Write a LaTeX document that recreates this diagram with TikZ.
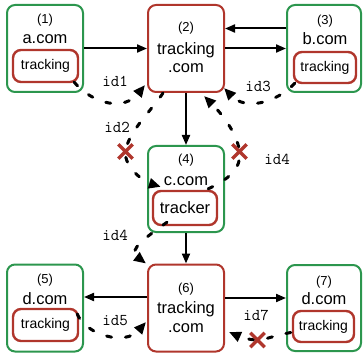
\documentclass[tikz,border=0pt]{standalone}
\usepackage{fontspec}
\setmainfont{Liberation Sans}
\usetikzlibrary{arrows.meta,shapes.misc,calc}
\definecolor{sitegreen}{RGB}{44,150,78}
\definecolor{trackred}{RGB}{176,54,44}
\tikzset{
  site/.style={draw=sitegreen,line width=2pt,rounded corners=8pt,inner sep=0pt},
  tracksite/.style={draw=trackred,line width=2pt,rounded corners=8pt,inner sep=0pt},
  widget/.style={draw=trackred,line width=2.4pt,rounded corners=8pt,inner sep=0pt,
    font=\fontsize{14}{16}\selectfont},
  num/.style={anchor=base,inner sep=0pt,font=\fontsize{13}{15}\selectfont},
  dom/.style={anchor=base,inner sep=0pt,font=\fontsize{16.5}{19}\selectfont},
  idlabel/.style={inner sep=0pt,font=\ttfamily\fontsize{16.5}{18}\selectfont},
  flow/.style={line width=2pt,-{Triangle[length=10pt,width=8pt]}},
  idflow/.style={line width=3pt,dash pattern=on 5pt off 14pt,line cap=round,
    -{Triangle[length=12pt,width=10pt]}},
  blocked/.style={cross out,draw=trackred,line width=3.3pt,minimum size=11pt,inner sep=0pt},
}
\begin{document}
\begin{tikzpicture}[x=1pt,y=-1pt]
\useasboundingbox (0,0) rectangle (364,358);

% first-party sites (green) and tracker domains (red)
\node[site,minimum width=76pt,minimum height=87pt] (b1) at (45,48.5) {};
\node[tracksite,minimum width=76pt,minimum height=87pt] (b2) at (186,48.5) {};
\node[site,minimum width=74pt,minimum height=87pt] (b3) at (324,48.5) {};
\node[site,minimum width=76pt,minimum height=86pt] (b4) at (186,189) {};
\node[site,minimum width=76pt,minimum height=87pt] (b5) at (45,308) {};
\node[tracksite,minimum width=76pt,minimum height=87pt] (b6) at (186,308) {};
\node[site,minimum width=74pt,minimum height=86pt] (b7) at (324,308) {};

% embedded tracking widgets
\node[widget,minimum width=65pt,minimum height=32pt] (ta) at (45.5,66) {tracking};
\node[widget,minimum width=62pt,minimum height=31pt] (tb) at (325,67.5) {tracking};
\node[widget,minimum width=64pt,minimum height=34pt,font=\fontsize{16.5}{19}\selectfont] (tc) at (185,208) {tracker};
\node[widget,minimum width=65pt,minimum height=32pt] (td5) at (45.5,325) {tracking};
\node[widget,minimum width=61pt,minimum height=31pt] (td7) at (323.5,326.5) {tracking};

% box captions
\node[num] (n1) at (45,24) {(1)};
\node[dom] (d1) at (45,44) {a.com};
\node[num] (n2) at (186,32) {(2)};
\node[dom] (d2a) at (186,55) {tracking};
\node[dom] (d2b) at (186,73) {.com};
\node[num] (n3) at (325,25) {(3)};
\node[dom] (d3) at (325,45) {b.com};
\node[num] (n4) at (186,164) {(4)};
\node[dom] (d4) at (186,186) {c.com};
\node[num] (n5) at (45,283) {(5)};
\node[dom] (d5) at (45,304) {d.com};
\node[num] (n6) at (186,292) {(6)};
\node[dom] (d6a) at (186,313) {tracking};
\node[dom] (d6b) at (186,332) {.com};
\node[num] (n7) at (324,285) {(7)};
\node[dom] (d7) at (324,304) {d.com};

% request flow
\draw[flow] (b1) -- (b2);
\draw[flow] ([yshift=20pt]b3.west) -- ([yshift=20pt]b2.east);
\draw[flow] (b2) -- (b3);
\draw[flow] (b2.south) -- (b4.north);
\draw[flow] (b4.south) -- (b6.north);
\draw[flow] ([yshift=11pt]b6.west) -- ([yshift=11pt]b5.east);
\draw[flow] ([yshift=10pt]b6.east) -- ([yshift=10pt]b7.west);

% positions of blocked identifier transfers
\coordinate (x1) at (125.5,151.5);
\coordinate (x2) at (239.5,151.5);
\coordinate (x3) at (257.5,340);

% identifier transfers
\draw[idflow] ($(ta.south east)+(-5,-1)$) .. controls (95,106) and (125,110) .. ($(b2.south west)+(-2,-8)$);
\draw[idflow] ($(b2.south)+(-23,0)$) .. controls (152,110) and (128,132) .. (x1)
  .. controls (124,168) and (145,182) .. ($(tc.north west)+(9,-3)$);
\draw[idflow] ($(tb.south west)+(2,-1)$) .. controls (275,104) and (245,110) .. ($(b2.south east)+(-1,-5)$);
\draw[idflow] ($(tc.north east)+(-10,-1)$) .. controls (228,180) and (242,168) .. (x2)
  .. controls (237,132) and (220,112) .. ($(b2.south)+(18,3)$);
\draw[idflow] ($(tc.south)+(-18,-4)$) .. controls (145,238) and (128,250) .. ($(b6.north west)+(-1,0)$);
\draw[idflow] ($(td5.east)+(-2,-11)$) .. controls (86,335) and (125,346) .. ($(b6.west)+(-1,14)$);
\draw[idflow] ($(td7.west)+(-1,6)$) .. controls (272,336) and (265,340) .. (x3)
  .. controls (248,340) and (238,336) .. ($(b6.east)+(4,24)$);

% blocked marks
\node[blocked] (c1) at (x1) {};
\node[blocked] (c2) at (x2) {};
\node[blocked] (c3) at (x3) {};

% identifier labels
\node[idlabel] (l1) at (115,81) {id1};
\node[idlabel] (l2) at (117,127.5) {id2};
\node[idlabel] (l3) at (258,86) {id3};
\node[idlabel] (l4a) at (277,159.5) {id4};
\node[idlabel] (l4b) at (115,235) {id4};
\node[idlabel] (l5) at (115,321) {id5};
\node[idlabel] (l7) at (256,315) {id7};
\end{tikzpicture}
\end{document}
